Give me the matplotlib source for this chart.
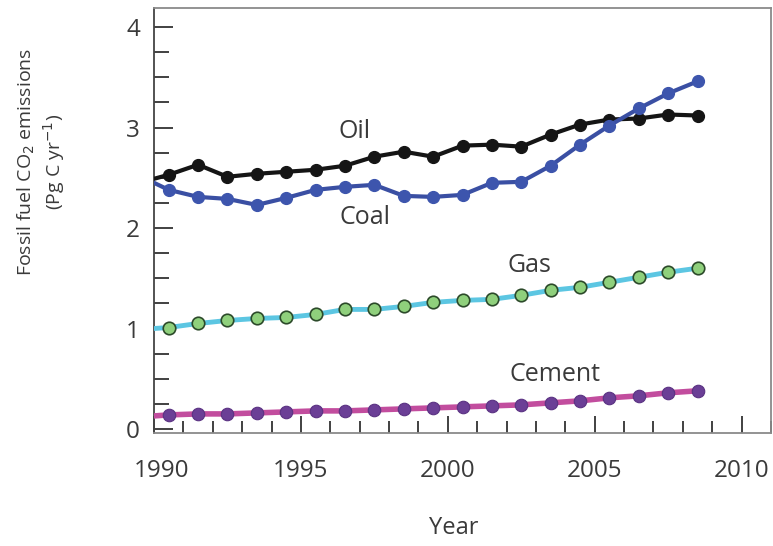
import numpy as np
import matplotlib.pyplot as plt
import matplotlib.transforms as mtransforms
from matplotlib.ticker import MultipleLocator

plt.rcParams['font.family'] = ['Open Sans', 'DejaVu Sans']

# first entry is where each line meets the left axis (no marker there)
years = [1990.0] + [1990.5 + i for i in range(19)]

oil = [2.49, 2.53, 2.63, 2.51, 2.54, 2.56, 2.58, 2.62, 2.71, 2.76, 2.71,
       2.82, 2.83, 2.81, 2.93, 3.03, 3.08, 3.09, 3.13, 3.12]
coal = [2.45, 2.38, 2.31, 2.29, 2.23, 2.30, 2.38, 2.41, 2.43, 2.32, 2.31,
        2.33, 2.45, 2.46, 2.62, 2.83, 3.02, 3.19, 3.34, 3.46]
gas = [1.00, 1.01, 1.05, 1.08, 1.10, 1.11, 1.14, 1.19, 1.19, 1.22, 1.26,
       1.28, 1.29, 1.33, 1.38, 1.41, 1.46, 1.51, 1.56, 1.60]
cement = [0.13, 0.14, 0.15, 0.15, 0.16, 0.17, 0.18, 0.18, 0.19, 0.20, 0.21,
          0.22, 0.23, 0.24, 0.26, 0.28, 0.31, 0.33, 0.36, 0.38]

txt = '#3a3a3a'

fig = plt.figure(figsize=(7.73, 5.46), dpi=100)
ax = fig.add_axes([154/773, 1-433/546, 617/773, 425/546])

mk = list(range(1, len(years)))
ax.plot(years, cement, color='#c24d9e', lw=4, marker='o', ms=9, markevery=mk,
        mfc='#6b3f96', mec='#5a3282', mew=0.8, zorder=3)
ax.plot(years, gas, color='#5cc6e2', lw=3.5, marker='o', ms=9, markevery=mk,
        mfc='#8fd07c', mec='#2c4a2a', mew=1.2, zorder=3)
ax.plot(years, oil, color='#151515', lw=3, marker='o', ms=8.5, markevery=mk,
        mfc='#151515', mec='#151515', zorder=3)
ax.plot(years, coal, color='#3a4fa3', lw=3, marker='o', ms=8.5, markevery=mk,
        mfc='#3d55ad', mec='#3d55ad', zorder=4)

ax.text(1996.84, 2.96, 'Oil', fontsize=18, color=txt, ha='center', va='center')
ax.text(1997.18, 2.10, 'Coal', fontsize=18, color=txt, ha='center', va='center')
ax.text(2002.79, 1.63, 'Gas', fontsize=18, color=txt, ha='center', va='center')
ax.text(2003.64, 0.54, 'Cement', fontsize=18, color=txt, ha='center', va='center')

ax.set_xlim(1990, 2011)
ax.set_ylim(-0.04, 4.19)
ax.xaxis.set_major_locator(MultipleLocator(5))
ax.xaxis.set_minor_locator(MultipleLocator(1))
ax.yaxis.set_major_locator(MultipleLocator(1))
ax.yaxis.set_minor_locator(MultipleLocator(0.25))
ax.set_xticks([1990, 1995, 2000, 2005, 2010])
ax.set_yticks([0, 1, 2, 3, 4])

ax.tick_params(axis='both', which='both', direction='in', colors='#333333',
               labelcolor=txt, labelsize=17.5, width=1.3)
ax.tick_params(axis='y', which='major', length=14, pad=10)
ax.tick_params(axis='y', which='minor', length=11)
ax.tick_params(axis='x', which='major', length=12, pad=19)
ax.tick_params(axis='x', which='minor', length=9)

# the 1990 label sits a little right of its tick
lab0 = ax.get_xticklabels()[0]
lab0.set_transform(lab0.get_transform() +
                   mtransforms.ScaledTranslation(8/100, 0, fig.dpi_scale_trans))

for s in ax.spines.values():
    s.set_color('#8a8a8a')
    s.set_linewidth(1.3)
ax.spines['left'].set_color('#444444')

fig.text(41/773, 1-162/546, 'Fossil fuel CO$_2$ emissions\n(Pg C yr$^{-1}$)',
         rotation=90, ha='center', va='center', multialignment='center',
         fontsize=14, color=txt, linespacing=1.2)
fig.text(454/773, 1-528/546, 'Year', fontsize=17, color=txt,
         ha='center', va='center')

fig.savefig('out.png', dpi=100)
